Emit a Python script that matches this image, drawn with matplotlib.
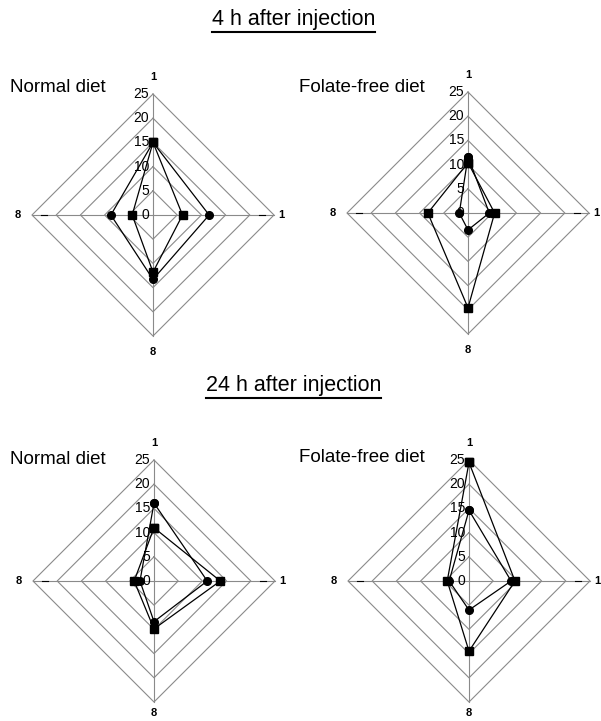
import numpy as np
import matplotlib.pyplot as plt

plt.rcParams['font.family'] = ['Liberation Sans', 'DejaVu Sans']

# spoke labels, clockwise from the top
spokes = ['1', '1', '8', '8']
rings = [5, 10, 15, 20, 25]

# values read per spoke: top, right, bottom, left
normal_4h_circ = [15.0, 11.6, 13.3, 8.7]
normal_4h_sq = [15.0, 6.1, 11.8, 4.3]
folate_4h_circ = [11.6, 4.4, 3.5, 1.8]
folate_4h_sq = [10.4, 5.5, 19.6, 8.3]
normal_24h_circ = [16.1, 11.0, 8.4, 2.9]
normal_24h_sq = [11.0, 13.7, 9.9, 4.1]
folate_24h_circ = [14.6, 8.7, 6.0, 4.1]
folate_24h_sq = [24.5, 9.5, 14.5, 4.5]

W, H = 601, 721
fig = plt.figure(figsize=(W / 100, H / 100), dpi=100)

dx = np.array([0, 1, 0, -1])
dy = np.array([1, 0, -1, 0])
half = 150  # px half-size of each axes box
rad_px = 121  # px for value 25


def radar(cx, cy, circ, sq, bottom_off):
    ax = fig.add_axes([(cx - half) / W, 1 - (cy + half) / H, 2 * half / W, 2 * half / H])
    lim = half / rad_px * 25
    ax.set_xlim(-lim, lim)
    ax.set_ylim(-lim, lim)
    ax.axis('off')
    for r in rings:
        ax.plot(np.append(r * dx, 0), np.append(r * dy, r), color='#8a8a8a', lw=0.8, zorder=1)
    for i in range(4):
        ax.plot([0, 25 * dx[i]], [0, 25 * dy[i]], color='#8a8a8a', lw=0.8, zorder=1)
    # short dark ticks on the horizontal axis near the outer ring
    for s in (-1, 1):
        ax.plot([s * 21.8, s * 23.2], [0, 0], color='black', lw=0.8, zorder=1)
    for vals, mk in [(circ, 'o'), (sq, 's')]:
        v = np.array(vals)
        ax.plot(np.append(v * dx, v[0] * dx[0]), np.append(v * dy, v[0] * dy[0]),
                color='black', lw=0.9, marker=mk, ms=5.5, zorder=3)
    for r in [0] + rings:
        ax.text(-0.8, r, str(r), ha='right', va='center', fontsize=10, zorder=2)
    offs = [28.6, 26.6, bottom_off, 28.0]
    for i, lab in enumerate(spokes):
        ax.text(offs[i] * dx[i], offs[i] * dy[i], lab, ha='center', va='center',
                fontsize=8, fontweight='bold')
    return ax


radar(153, 215, normal_4h_circ, normal_4h_sq, 28.3)
radar(468, 213, folate_4h_circ, folate_4h_sq, 28.3)
radar(154, 581, normal_24h_circ, normal_24h_sq, 27.2)
radar(469, 581, folate_24h_circ, folate_24h_sq, 27.2)

fig.text(10 / W, 1 - 88 / H, 'Normal diet', fontsize=13.5, ha='left', va='center')
fig.text(299 / W, 1 - 87 / H, 'Folate-free diet', fontsize=13.5, ha='left', va='center')
fig.text(10 / W, 1 - 459 / H, 'Normal diet', fontsize=13.5, ha='left', va='center')
fig.text(299 / W, 1 - 457 / H, 'Folate-free diet', fontsize=13.5, ha='left', va='center')

# underlined section headings
heads = []
for txt, y in [('4 h after injection', 20), ('24 h after injection', 386)]:
    heads.append(fig.text(0.488, 1 - y / H, txt, fontsize=15.5, ha='center', va='center'))
fig.canvas.draw()
renderer = fig.canvas.get_renderer()
for t in heads:
    bb = t.get_window_extent(renderer)
    yline = bb.y0 - 1
    fig.add_artist(plt.Line2D([bb.x0 / W, bb.x1 / W], [yline / H, yline / H],
                              color='black', lw=1.5))

fig.savefig('out.png', dpi=100)
